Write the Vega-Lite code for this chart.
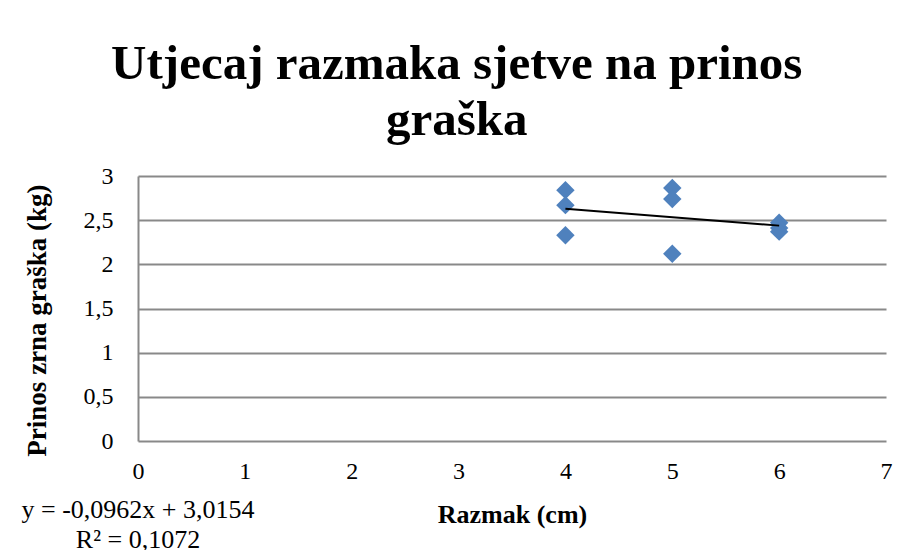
{
  "$schema": "https://vega.github.io/schema/vega-lite/v6.json",
  "width": 748,
  "height": 265,
  "autosize": {"type": "none"},
  "padding": {"left": 138, "top": 176, "right": 22, "bottom": 109},
  "background": "white",
  "datasets": {
    "points": [
      {"razmak": 4, "prinos": 2.84},
      {"razmak": 4, "prinos": 2.67},
      {"razmak": 4, "prinos": 2.33},
      {"razmak": 5, "prinos": 2.865},
      {"razmak": 5, "prinos": 2.74},
      {"razmak": 5, "prinos": 2.12},
      {"razmak": 6, "prinos": 2.47},
      {"razmak": 6, "prinos": 2.41},
      {"razmak": 6, "prinos": 2.37}
    ],
    "trend": [
      {"razmak": 4, "prinos": 2.6306},
      {"razmak": 6, "prinos": 2.4382}
    ],
    "labels": [
      {"razmak": 0, "prinos": -0.78, "text": "y = -0,0962x + 3,0154"},
      {"razmak": 0, "prinos": -1.12, "text": "R² = 0,1072"}
    ]
  },
  "title": {
    "text": ["Utjecaj razmaka sjetve na prinos", "graška"],
    "font": "Liberation Serif",
    "fontSize": 49,
    "fontWeight": "bold",
    "color": "black",
    "anchor": "middle",
    "frame": "bounds",
    "lineHeight": 56,
    "offset": 19
  },
  "config": {
    "view": {"stroke": null},
    "axis": {
      "labelFont": "Liberation Serif",
      "labelFontSize": 24,
      "labelColor": "black",
      "titleFont": "Liberation Serif",
      "titleFontSize": 27,
      "titleFontWeight": "bold",
      "titleColor": "black",
      "ticks": false
    }
  },
  "encoding": {
    "x": {
      "field": "razmak",
      "type": "quantitative",
      "scale": {"domain": [0, 7], "nice": false, "zero": false},
      "axis": {
        "title": "Razmak (cm)",
        "values": [0, 1, 2, 3, 4, 5, 6, 7],
        "grid": false,
        "domain": false,
        "labelPadding": 18,
        "titlePadding": 18,
        "titleFontSize": 26,
        "labelFlush": false
      }
    },
    "y": {
      "field": "prinos",
      "type": "quantitative",
      "scale": {"domain": [0, 3], "nice": false, "zero": false},
      "axis": {
        "title": "Prinos zrna graška (kg)",
        "values": [0, 0.5, 1, 1.5, 2, 2.5, 3],
        "labelExpr": "replace(format(datum.value, '~g'), '.', ',')",
        "grid": true,
        "gridColor": "#898989",
        "gridWidth": 2,
        "domain": true,
        "domainColor": "#898989",
        "domainWidth": 2,
        "labelPadding": 25,
        "titlePadding": 32,
        "titleY": 144,
        "labelFlush": false
      }
    }
  },
  "layer": [
    {
      "data": {"name": "points"},
      "mark": {"type": "point", "shape": "diamond", "filled": true, "color": "#4F81BD", "opacity": 1, "size": 340}
    },
    {
      "data": {"name": "trend"},
      "mark": {"type": "line", "color": "black", "strokeWidth": 2}
    },
    {
      "data": {"name": "labels"},
      "mark": {"type": "text", "font": "Liberation Serif", "fontSize": 26, "color": "black", "align": "center", "baseline": "middle"},
      "encoding": {"text": {"field": "text"}}
    }
  ]
}
